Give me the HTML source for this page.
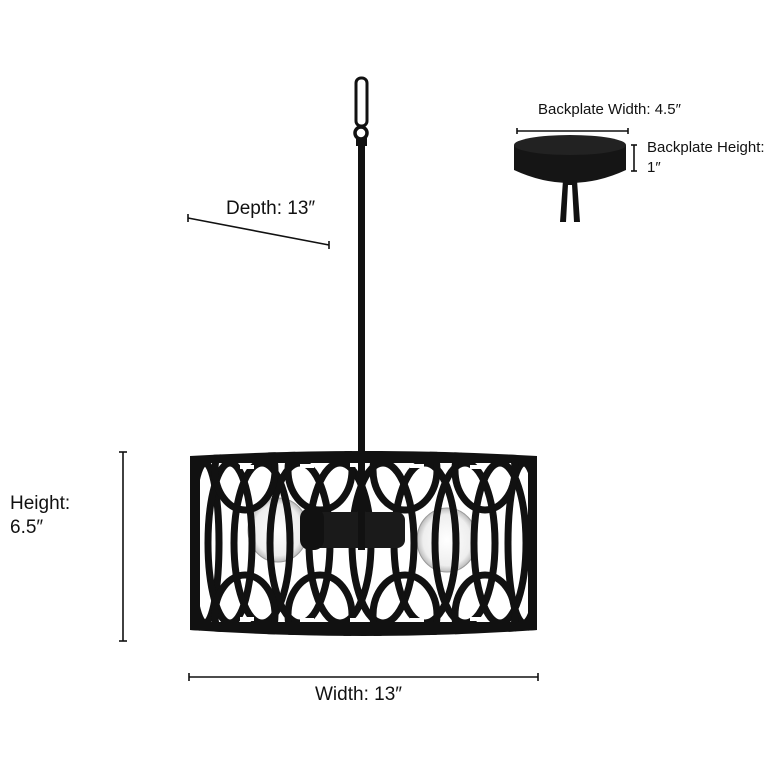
<!DOCTYPE html>
<html><head><meta charset="utf-8"><style>
html,body{margin:0;padding:0;background:#fff;}
svg{display:block;}
text{font-family:"Liberation Sans",Arial,sans-serif;fill:#111;}
</style></head><body>
<svg width="780" height="780" viewBox="0 0 780 780" xmlns="http://www.w3.org/2000/svg">
<defs>
<clipPath id="shade"><path d="M190,456 Q363,446 537,456 L537,630 Q363,642 190,630 Z"/></clipPath>
<radialGradient id="bulb" cx="0.5" cy="0.5" r="0.5"><stop offset="0" stop-color="#fff"/><stop offset="0.8" stop-color="#eee"/><stop offset="1" stop-color="#bbb"/></radialGradient>
</defs>

<rect x="358" y="140" width="7" height="312" fill="#111"/>
<rect x="356" y="78" width="11" height="48" rx="5" fill="none" stroke="#111" stroke-width="3"/>
<circle cx="361" cy="133" r="6" fill="none" stroke="#111" stroke-width="3.5"/>
<rect x="356" y="138" width="11" height="8" fill="#111"/>

<g clip-path="url(#shade)">
<rect x="185" y="440" width="360" height="210" fill="#fff"/>
<ellipse cx="278" cy="530" rx="30" ry="32" fill="url(#bulb)" stroke="#999" stroke-width="1"/>
<ellipse cx="447" cy="540" rx="30" ry="32" fill="url(#bulb)" stroke="#999" stroke-width="1"/>
<g fill="none" stroke="#111" stroke-width="7">
<ellipse cx="205" cy="543" rx="14" ry="80"/>
<ellipse cx="230" cy="543" rx="22" ry="80"/>
<ellipse cx="262" cy="543" rx="28" ry="80"/>
<ellipse cx="300" cy="543" rx="30" ry="80"/>
<ellipse cx="340" cy="543" rx="31" ry="80"/>
<ellipse cx="383" cy="543" rx="31" ry="80"/>
<ellipse cx="425" cy="543" rx="31" ry="80"/>
<ellipse cx="465" cy="543" rx="30" ry="80"/>
<ellipse cx="500" cy="543" rx="26" ry="80"/>
<ellipse cx="524" cy="543" rx="16" ry="80"/>
<ellipse cx="245" cy="470" rx="30" ry="40"/>
<ellipse cx="320" cy="470" rx="32" ry="40"/>
<ellipse cx="405" cy="470" rx="32" ry="40"/>
<ellipse cx="485" cy="470" rx="30" ry="40"/>
<ellipse cx="245" cy="615" rx="30" ry="40"/>
<ellipse cx="320" cy="615" rx="32" ry="40"/>
<ellipse cx="405" cy="615" rx="32" ry="40"/>
<ellipse cx="485" cy="615" rx="30" ry="40"/>
</g>
<rect x="185" y="440" width="360" height="23" fill="#111"/>
<rect x="185" y="622" width="360" height="25" fill="#111"/>
<rect x="190" y="456" width="10" height="175" fill="#111"/>
<rect x="528" y="456" width="10" height="175" fill="#111"/>
<g fill="#fff">
<rect x="240" y="465" width="14" height="4"/><rect x="300" y="464" width="14" height="4"/><rect x="350" y="463" width="14" height="4"/><rect x="410" y="464" width="14" height="4"/><rect x="470" y="465" width="14" height="4"/>
<rect x="240" y="617" width="14" height="4"/><rect x="300" y="618" width="14" height="4"/><rect x="350" y="618" width="14" height="4"/><rect x="410" y="618" width="14" height="4"/><rect x="470" y="617" width="14" height="4"/>
</g>
<rect x="305" y="512" width="100" height="36" rx="8" fill="#1a1a1a"/>
<rect x="300" y="508" width="24" height="42" rx="10" fill="#111"/>
<rect x="358" y="450" width="7" height="100" fill="#111"/>
</g>

<path d="M514,145 L514,170 Q570,196 626,170 L626,145 Z" fill="#151515"/>
<ellipse cx="570" cy="145" rx="56" ry="10" fill="#222"/>
<path d="M563,180 L560,222 L566,222 L568,185 L572,185 L574,222 L580,222 L577,180 Z" fill="#111"/>

<g stroke="#111" stroke-width="1.6" fill="none">
<line x1="188" y1="218" x2="329" y2="245"/><line x1="188" y1="214" x2="188" y2="222"/><line x1="329" y1="241" x2="329" y2="249"/>
<line x1="123" y1="452" x2="123" y2="641"/><line x1="119" y1="452" x2="127" y2="452"/><line x1="119" y1="641" x2="127" y2="641"/>
<line x1="189" y1="677" x2="538" y2="677"/><line x1="189" y1="673" x2="189" y2="681"/><line x1="538" y1="673" x2="538" y2="681"/>
<line x1="517" y1="131" x2="628" y2="131"/><line x1="517" y1="128" x2="517" y2="134"/><line x1="628" y1="128" x2="628" y2="134"/>
<line x1="634" y1="145" x2="634" y2="171"/><line x1="631" y1="145" x2="637" y2="145"/><line x1="631" y1="171" x2="637" y2="171"/>
</g>
<text x="226" y="214" font-size="19">Depth: 13″</text>
<text x="10" y="509" font-size="19">Height:</text>
<text x="10" y="533" font-size="19">6.5″</text>
<text x="315" y="700" font-size="19">Width: 13″</text>
<text x="538" y="114" font-size="15">Backplate Width: 4.5″</text>
<text x="647" y="152" font-size="15">Backplate Height:</text>
<text x="647" y="172" font-size="15">1″</text>
</svg>
</body></html>
